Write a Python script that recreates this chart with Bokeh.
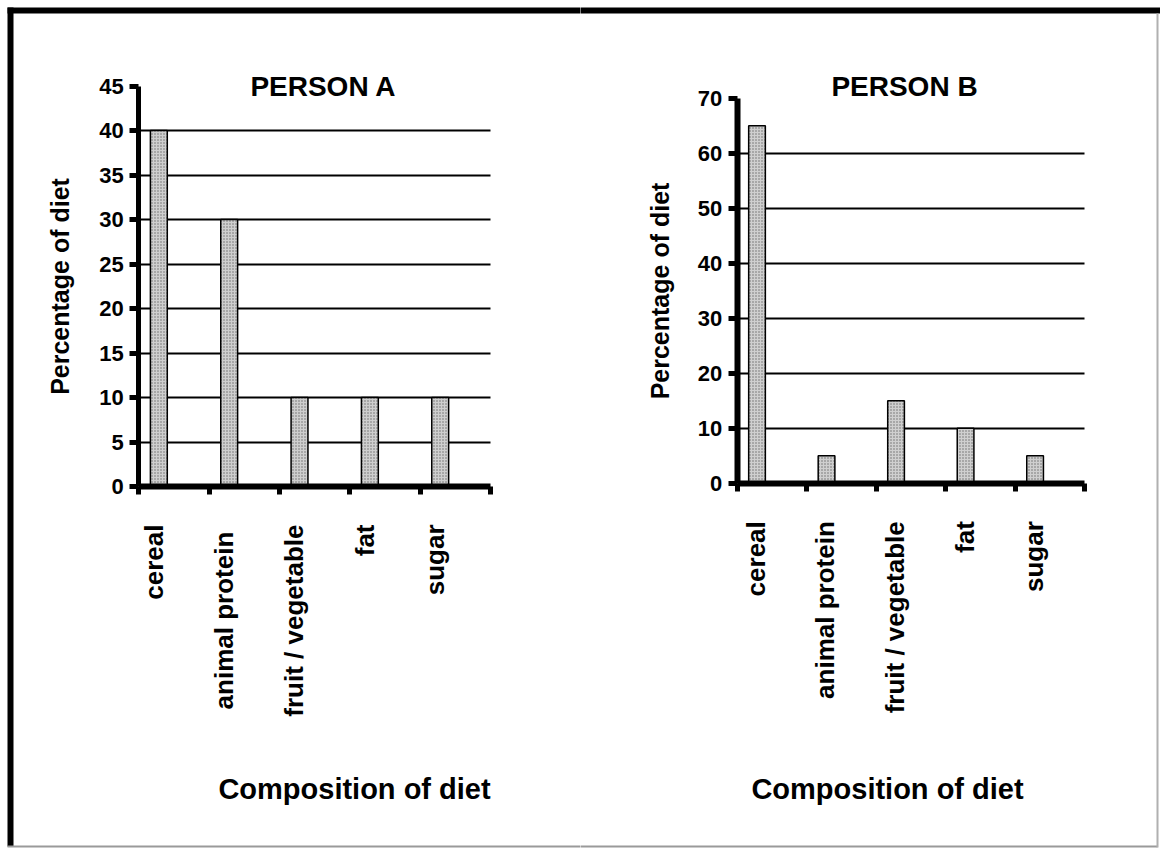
from bokeh.plotting import figure
from bokeh.models import FixedTicker, Label, BoxAnnotation, Range1d, ColumnDataSource, Grid
from bokeh.layouts import row
from bokeh.embed import file_html
from bokeh.resources import INLINE
import math

# ---------------- data ----------------
categories_a = ["cereal", "animal  protein", "fruit / vegetable", "fat", "sugar"]
values_a = [40, 30, 10, 10, 10]
yticks_a = [0, 5, 10, 15, 20, 25, 30, 35, 40, 45]
grid_a = [5, 10, 15, 20, 25, 30, 35, 40]
title_a = "PERSON A"

categories_b = ["cereal", "animal protein", "fruit / vegetable", "fat", "sugar"]
values_b = [65, 5, 15, 10, 5]
yticks_b = [0, 10, 20, 30, 40, 50, 60, 70]
grid_b = [10, 20, 30, 40, 50, 60]
title_b = "PERSON B"

y_label = "Percentage of diet"
x_label = "Composition of diet"

FONT = "Liberation Sans"
HAS_CROSS = "cross_bounds" in Grid.properties()


def make_panel(cats, vals, yticks, grid, title, fl, fr, ft, fb, lab_off,
               title_px, comp_px, comp_py, axis_w, ylab_standoff, border):
    W, H = 580, 848
    n = len(cats)
    ymax = yticks[-1]

    def dx(px):
        return -lab_off + (px - fl) / (fr - fl) * n

    def dy(py):
        return (fb - py) / (fb - ft) * ymax

    p = figure(width=W, height=H, output_backend="svg", toolbar_location=None,
               title=None, x_range=Range1d(dx(0), dx(W)),
               y_range=Range1d(dy(H), dy(0)),
               min_border_left=0, min_border_right=0,
               min_border_top=0, min_border_bottom=0)
    p.outline_line_color = None
    p.background_fill_color = "white"
    p.border_fill_color = "white"

    x0, x1 = -lab_off, n - lab_off

    # grid
    p.xgrid.visible = False
    if HAS_CROSS:
        p.ygrid.ticker = FixedTicker(ticks=grid)
        p.ygrid.grid_line_color = "black"
        p.ygrid.grid_line_width = 2
        p.ygrid.cross_bounds = (x0, x1)
    else:
        p.ygrid.visible = False
        p.segment(x0=[x0] * len(grid), x1=[x1] * len(grid), y0=grid, y1=grid,
                  line_color="black", line_width=2, level="underlay")

    src = ColumnDataSource(dict(cat=cats, value=vals,
                                x=[i - lab_off + 0.285 for i in range(n)]))
    p.vbar(x="x", top="value", bottom=0, width=0.24, source=src,
           fill_color="#cfcfcf", line_color="black", line_width=1.5,
           hatch_pattern="dot", hatch_scale=3, hatch_weight=1.2,
           hatch_color="#6a6a6a")

    # y axis
    ya = p.yaxis[0]
    ya.fixed_location = x0
    ya.bounds = (0, ymax)
    ya.ticker = FixedTicker(ticks=yticks)
    ya.axis_line_width = axis_w
    ya.axis_line_color = "black"
    ya.major_tick_line_width = 5
    ya.major_tick_out = 9
    ya.major_tick_in = 0
    ya.minor_tick_line_color = None
    ya.major_label_standoff = 6
    ya.major_label_text_font = FONT
    ya.major_label_text_font_style = "bold"
    ya.major_label_text_font_size = "22px"
    ya.major_label_text_color = "black"
    ya.axis_label = y_label
    ya.axis_label_text_font = FONT
    ya.axis_label_text_font_style = "bold"
    ya.axis_label_text_font_size = "25px"
    ya.axis_label_text_color = "black"
    ya.axis_label_standoff = ylab_standoff

    # x axis
    xa = p.xaxis[0]
    xa.fixed_location = 0
    xa.bounds = (x0, x1)
    xa.ticker = FixedTicker(ticks=list(range(n)),
                            minor_ticks=[k - lab_off for k in range(n + 1)])
    xa.major_label_overrides = {i: c for i, c in enumerate(cats)}
    xa.major_label_orientation = math.pi / 2
    xa.axis_line_width = 6
    xa.axis_line_color = "black"
    xa.major_tick_line_color = None
    xa.major_tick_out = 0
    xa.major_tick_in = 0
    xa.minor_tick_line_width = 5
    xa.minor_tick_line_color = "black"
    xa.minor_tick_out = 8
    xa.minor_tick_in = 0
    xa.major_label_standoff = 30
    xa.major_label_text_font = FONT
    xa.major_label_text_font_style = "bold"
    xa.major_label_text_font_size = "26px"
    xa.major_label_text_color = "black"

    p.add_layout(Label(x=dx(title_px), y=dy(86), text=title, text_align="center",
                       text_baseline="middle", text_font=FONT,
                       text_font_style="bold", text_font_size="28px",
                       text_color="black"))
    p.add_layout(Label(x=dx(comp_px), y=dy(comp_py), text=x_label,
                       text_align="center", text_baseline="alphabetic",
                       text_font=FONT, text_font_style="bold",
                       text_font_size="29px", text_color="black"))

    for b in border:
        p.add_layout(BoxAnnotation(left=dx(b[0]), right=dx(b[1]),
                                   top=dy(b[2]), bottom=dy(b[3]),
                                   fill_color=b[4], fill_alpha=1.0,
                                   line_color=None, level="overlay"))
    return p


pa = make_panel(categories_a, values_a, yticks_a, grid_a, title_a,
                138.3, 490, 85.5, 486, 0.21, 323, 354, 788, 5, 22,
                [(7, 590, 7, 13, "black"), (7, 13, 7, 846, "black"),
                 (7, 590, 845, 847, "#9a9a9a")])
pb = make_panel(categories_b, values_b, yticks_b, grid_b, title_b,
                156.7, 504.3, 97.7, 482.7, 0.27, 324, 307, 788, 6, 21,
                [(-10, 590, 7, 13, "black"), (-10, 577, 845, 847, "#9a9a9a"),
                 (576, 578, 13, 847, "#b0b0b0")])

layout = row(pa, pb)
open("out.html", "w").write(file_html(layout, INLINE))
